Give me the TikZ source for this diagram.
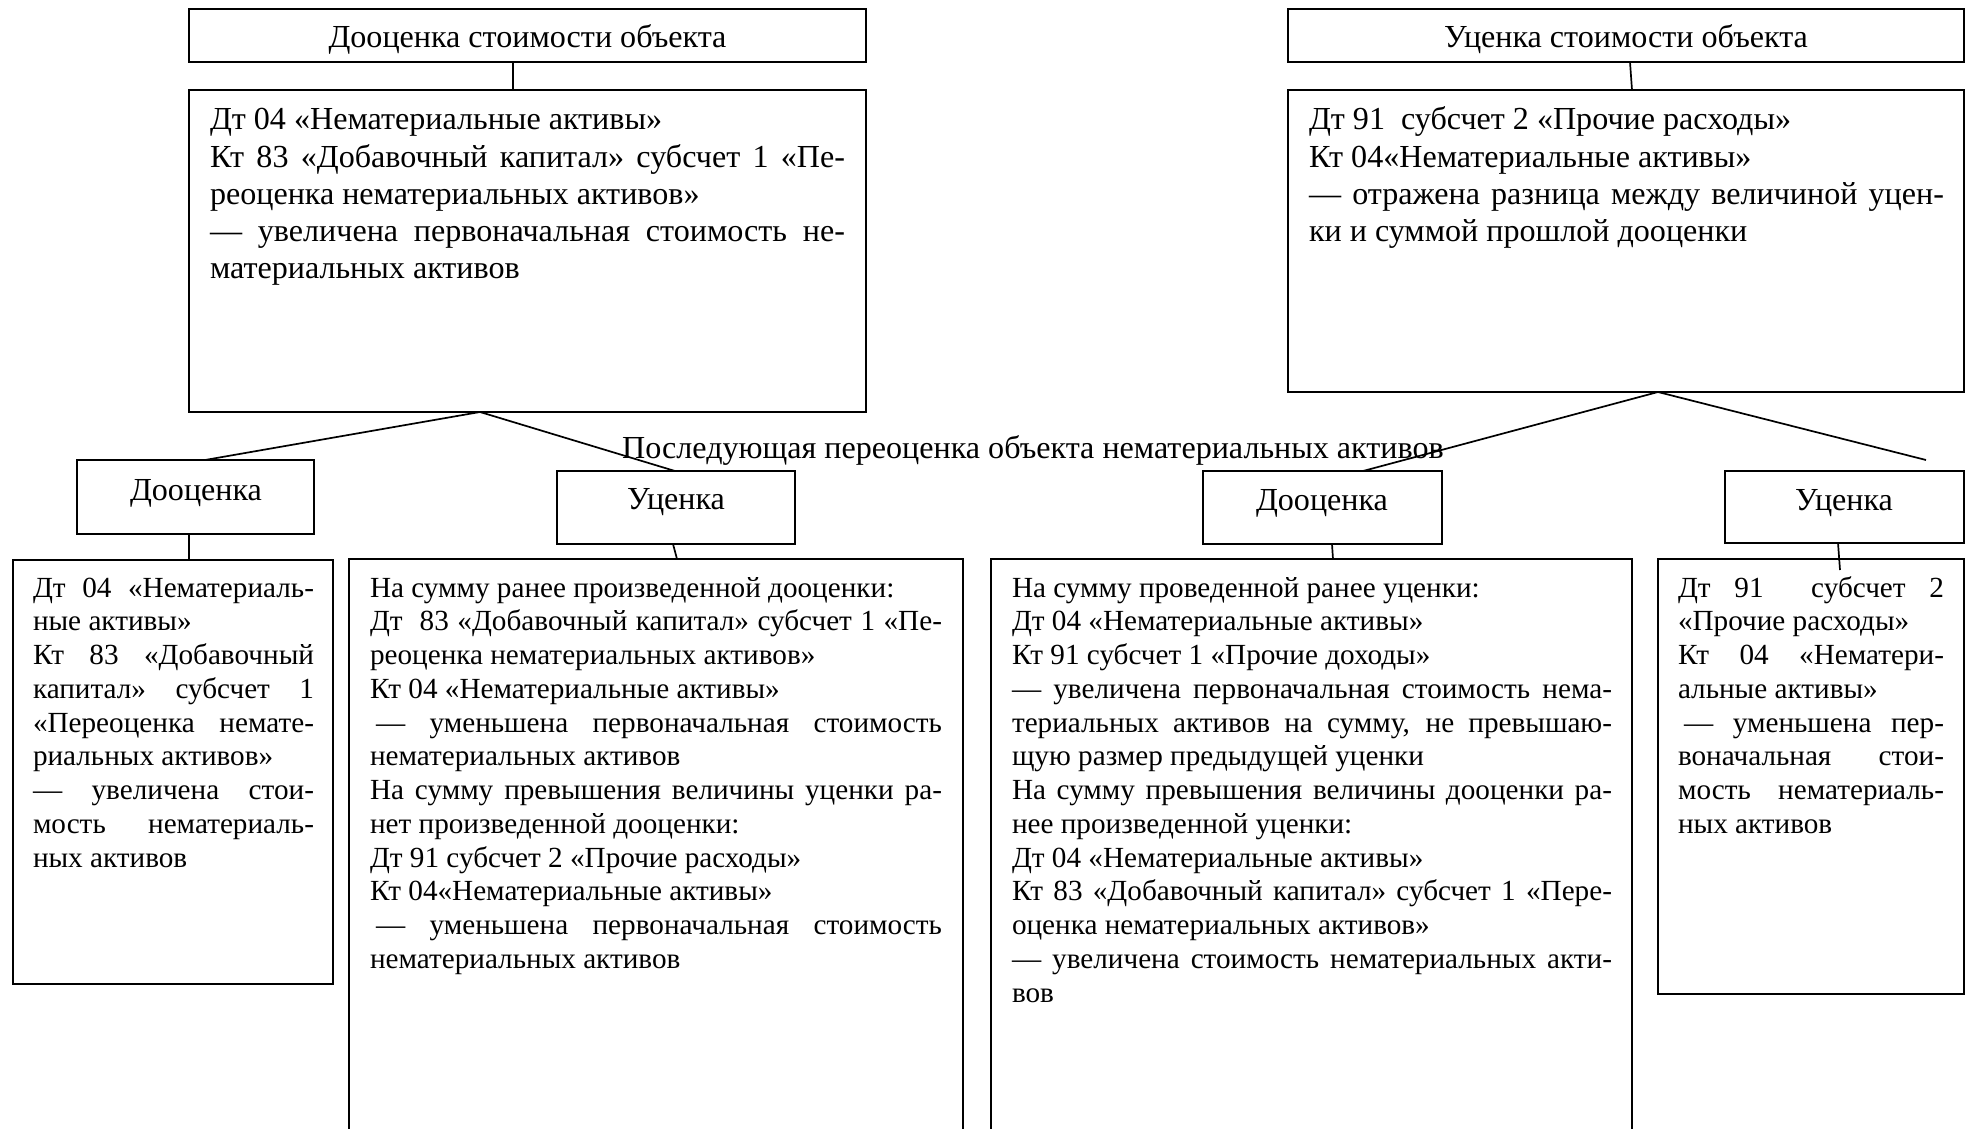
\documentclass[tikz,border=0pt]{standalone}
\usepackage{fontspec}
\setmainfont{Liberation Serif}
\usetikzlibrary{calc}
\newcommand\upfont{\fontsize{32.1}{37.1}\selectfont}
\newcommand\lofont{\fontsize{29.2}{33.75}\selectfont}
\newcommand\JL[1]{\hbox to\hsize{\strut#1}}
\newcommand\LL[1]{\hbox to\hsize{\strut#1\hfil}}
\begin{document}
\begin{tikzpicture}[x=1pt,y=-1pt,
  box/.style={draw=black, line width=1.8pt, inner sep=0pt, outer sep=0pt, anchor=north west},
  txt/.style={inner sep=0pt, outer sep=0pt, anchor=north west},
  lbl/.style={inner sep=0pt, anchor=base, font=\upfont},
  conn/.style={draw=black, line width=1.7pt}]
\useasboundingbox (0,0) rectangle (1971,1128);
\fill[white] (0,0) rectangle (1971,1128);
% boxes
\node[box, minimum width=677pt, minimum height=53pt] (A) at (189,9) {};
\node[box, minimum width=677pt, minimum height=322pt] (B) at (189,90) {};
\node[box, minimum width=676pt, minimum height=53pt] (C) at (1288,9) {};
\node[box, minimum width=676pt, minimum height=302pt] (D) at (1288,90) {};
\node[box, minimum width=237pt, minimum height=74pt] (E) at (77,460) {};
\node[box, minimum width=238pt, minimum height=73pt] (F) at (557,471) {};
\node[box, minimum width=239pt, minimum height=73pt] (G) at (1203,471) {};
\node[box, minimum width=239pt, minimum height=72pt] (H) at (1725,471) {};
\node[box, minimum width=320pt, minimum height=424pt] (I) at (13,560) {};
\node[box, minimum width=614pt, minimum height=600pt] (J) at (349,559) {};
\node[box, minimum width=641pt, minimum height=600pt] (K) at (991,559) {};
\node[box, minimum width=306pt, minimum height=435pt] (L) at (1658,559) {};
% single labels
\node[lbl] (At) at (527.5,47.5) {Дооценка стоимости объекта};
\node[lbl] (Ct) at (1626,47.5) {Уценка стоимости объекта};
\node[lbl] (Et) at (196,500) {Дооценка};
\node[lbl] (Ft) at (676,509) {Уценка};
\node[lbl] (Gt) at (1322,510) {Дооценка};
\node[lbl] (Ht) at (1844,510) {Уценка};
\node[lbl, anchor=base west] (title) at (622,458) {Последующая переоценка объекта нематериальных активов};
% box texts
\node[txt] (Bt) at (210,104) {\parbox[t]{635pt}{\upfont
\LL{Дт 04 «Нематериальные активы»}
\JL{Кт 83 «Добавочный капитал» субсчет 1 «Пе-}
\LL{реоценка нематериальных активов»}
\JL{— увеличена первоначальная стоимость не-}
\LL{материальных активов}}};
\node[txt] (Dt) at (1309,104) {\parbox[t]{635pt}{\upfont
\LL{Дт 91~~субсчет 2 «Прочие расходы»}
\LL{Кт 04«Нематериальные активы»}
\JL{— отражена разница между величиной уцен-}
\LL{ки и суммой прошлой дооценки}}};
\node[txt] (It) at (33,573.4) {\parbox[t]{281pt}{\lofont
\JL{Дт 04 «Нематериаль-}
\LL{ные активы»}
\JL{Кт 83 «Добавочный}
\JL{капитал» субсчет 1}
\JL{«Переоценка немате-}
\LL{риальных активов»}
\JL{— увеличена стои-}
\JL{мость нематериаль-}
\LL{ных активов}}};
\node[txt] (Jt) at (370,573.4) {\parbox[t]{572pt}{\lofont
\LL{На сумму ранее произведенной дооценки:}
\JL{Дт~~83 «Добавочный капитал» субсчет 1 «Пе-}
\LL{реоценка нематериальных активов»}
\LL{Кт 04 «Нематериальные активы»}
\JL{\kern6pt— уменьшена первоначальная стоимость}
\LL{нематериальных активов}
\JL{На сумму превышения величины уценки ра-}
\LL{нет произведенной дооценки:}
\LL{Дт 91 субсчет 2 «Прочие расходы»}
\LL{Кт 04«Нематериальные активы»}
\JL{\kern6pt— уменьшена первоначальная стоимость}
\LL{нематериальных активов}}};
\node[txt] (Kt) at (1012,573.4) {\parbox[t]{600pt}{\lofont
\LL{На сумму проведенной ранее уценки:}
\LL{Дт 04 «Нематериальные активы»}
\LL{Кт 91 субсчет 1 «Прочие доходы»}
\JL{— увеличена первоначальная стоимость нема-}
\JL{териальных активов на сумму, не превышаю-}
\LL{щую размер предыдущей уценки}
\JL{На сумму превышения величины дооценки ра-}
\LL{нее произведенной уценки:}
\LL{Дт 04 «Нематериальные активы»}
\JL{Кт 83 «Добавочный капитал» субсчет 1 «Пере-}
\LL{оценка нематериальных активов»}
\JL{— увеличена стоимость нематериальных акти-}
\LL{вов}}};
\node[txt] (Lt) at (1678,573.4) {\parbox[t]{266pt}{\lofont
\JL{Дт 91~~субсчет 2}
\LL{«Прочие расходы»}
\JL{Кт 04 «Нематери-}
\LL{альные активы»}
\JL{\kern6pt— уменьшена пер-}
\JL{воначальная стои-}
\JL{мость нематериаль-}
\LL{ных активов}}};
% connectors
\coordinate (Dfree) at (1926,460);
\draw[conn] ($(A.south west)+(324,0)$) -- ($(B.north west)+(324,0)$);
\draw[conn] ($(C.south west)+(342,0)$) -- ($(D.north west)+(344,0)$);
\draw[conn] ($(B.south west)+(291,0)$) -- ($(E.north west)+(128,0)$);
\draw[conn] ($(B.south west)+(291,0)$) -- ($(F.north west)+(118,0)$);
\draw[conn] ($(D.south west)+(370,0)$) -- ($(G.north west)+(160,0)$);
\draw[conn] ($(D.south west)+(370,0)$) -- (Dfree);
\draw[conn] ($(E.south west)+(112,0)$) -- ($(I.north west)+(176,0)$);
\draw[conn] ($(F.south west)+(116,0)$) -- ($(J.north west)+(328,0)$);
\draw[conn] ($(G.south west)+(129,0)$) -- ($(K.north west)+(342,0)$);
\draw[conn] ($(H.south west)+(113,0)$) -- ($(L.north west)+(182,11)$);
\end{tikzpicture}
\end{document}
